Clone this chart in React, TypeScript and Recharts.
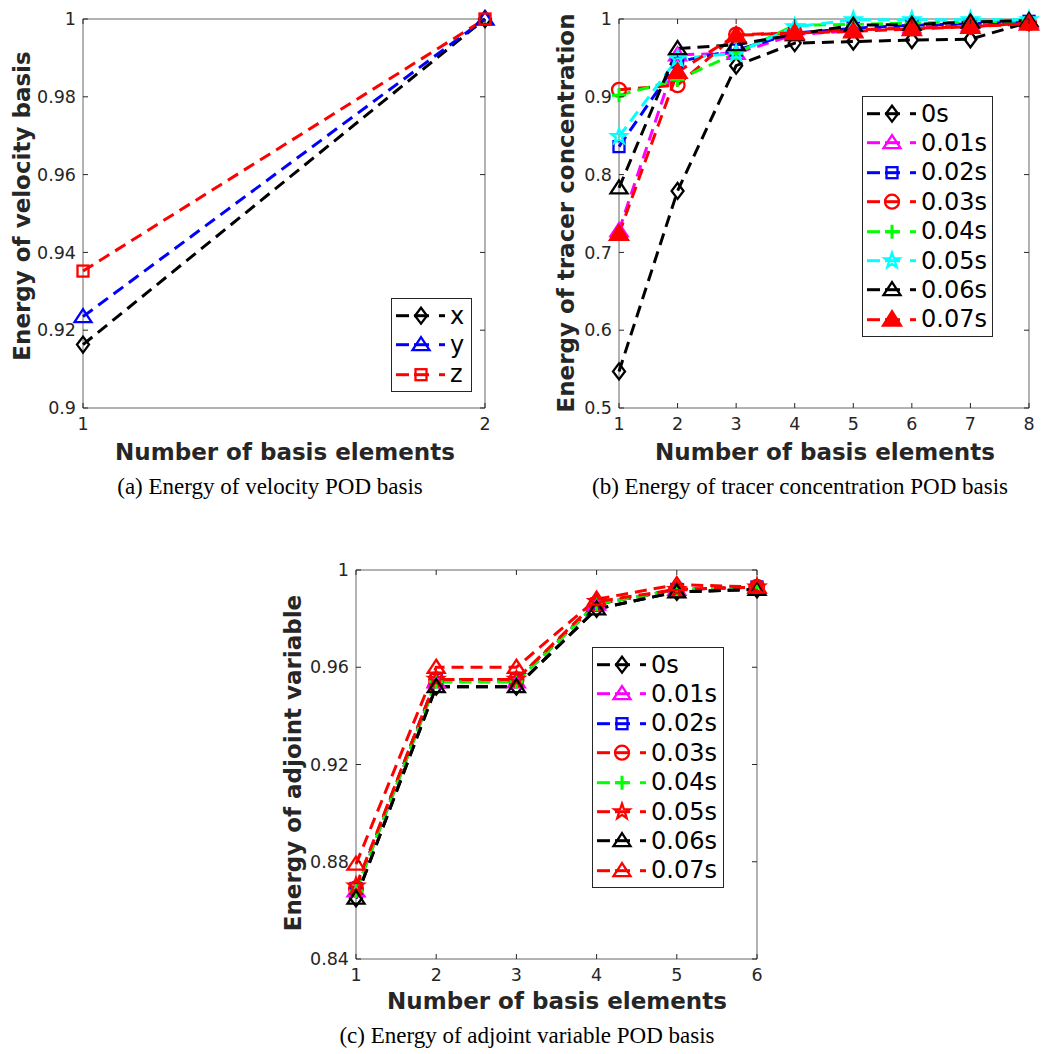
import React from "react";
import { LineChart, Line, XAxis, YAxis, ReferenceArea } from "recharts";

// (a) velocity basis
const velocityBasis = [1, 2];
const velocityX = [0.9163, 1];
const velocityY = [0.9235, 1];
const velocityZ = [0.9352, 1];
const velocityTicks = [0.9, 0.92, 0.94, 0.96, 0.98, 1];

// (b) tracer concentration basis
const tracerBasis = [1, 2, 3, 4, 5, 6, 7, 8];
const tracer0s = [0.547, 0.779, 0.94, 0.969, 0.971, 0.973, 0.974, 0.996];
const tracer001s = [0.728, 0.954, 0.956, 0.98, 0.985, 0.99, 0.992, 0.996];
const tracer002s = [0.836, 0.945, 0.96, 0.982, 0.988, 0.992, 0.994, 0.997];
const tracer003s = [0.909, 0.915, 0.98, 0.982, 0.986, 0.988, 0.99, 0.995];
const tracer004s = [0.902, 0.922, 0.956, 0.992, 0.993, 0.995, 0.996, 0.998];
const tracer005s = [0.849, 0.949, 0.956, 0.99, 0.999, 0.999, 0.999, 0.999];
const tracer006s = [0.783, 0.962, 0.967, 0.98, 0.992, 0.993, 0.996, 0.998];
const tracer007s = [0.724, 0.932, 0.979, 0.982, 0.984, 0.987, 0.99, 0.994];
const tracerTicks = [0.5, 0.6, 0.7, 0.8, 0.9, 1];

// (c) adjoint variable basis
const adjointBasis = [1, 2, 3, 4, 5, 6];
const adjoint0s = [0.865, 0.952, 0.952, 0.984, 0.991, 0.992];
const adjoint001s = [0.868, 0.954, 0.954, 0.986, 0.992, 0.993];
const adjoint002s = [0.869, 0.955, 0.955, 0.986, 0.992, 0.993];
const adjoint003s = [0.869, 0.955, 0.955, 0.986, 0.992, 0.993];
const adjoint004s = [0.868, 0.954, 0.954, 0.986, 0.992, 0.993];
const adjoint005s = [0.87, 0.955, 0.955, 0.987, 0.992, 0.993];
const adjoint006s = [0.865, 0.952, 0.952, 0.984, 0.991, 0.992];
const adjoint007s = [0.879, 0.96, 0.96, 0.988, 0.994, 0.993];
const adjointTicks = [0.84, 0.88, 0.92, 0.96, 1];

type Shape = "diamond" | "triangle" | "square" | "circle" | "plus" | "star" | "triangleFilled";

interface Series {
  name: string;
  color: string;
  shape: Shape;
  values: number[];
}

const velocitySeries: Series[] = [
  { name: "x", color: "#000000", shape: "diamond", values: velocityX },
  { name: "y", color: "#0000ff", shape: "triangle", values: velocityY },
  { name: "z", color: "#ff0000", shape: "square", values: velocityZ },
];

const tracerSeries: Series[] = [
  { name: "0s", color: "#000000", shape: "diamond", values: tracer0s },
  { name: "0.01s", color: "#ff00ff", shape: "triangle", values: tracer001s },
  { name: "0.02s", color: "#0000ff", shape: "square", values: tracer002s },
  { name: "0.03s", color: "#ff0000", shape: "circle", values: tracer003s },
  { name: "0.04s", color: "#00ff00", shape: "plus", values: tracer004s },
  { name: "0.05s", color: "#00ffff", shape: "star", values: tracer005s },
  { name: "0.06s", color: "#000000", shape: "triangle", values: tracer006s },
  { name: "0.07s", color: "#ff0000", shape: "triangleFilled", values: tracer007s },
];

const adjointSeries: Series[] = [
  { name: "0s", color: "#000000", shape: "diamond", values: adjoint0s },
  { name: "0.01s", color: "#ff00ff", shape: "triangle", values: adjoint001s },
  { name: "0.02s", color: "#0000ff", shape: "square", values: adjoint002s },
  { name: "0.03s", color: "#ff0000", shape: "circle", values: adjoint003s },
  { name: "0.04s", color: "#00ff00", shape: "plus", values: adjoint004s },
  { name: "0.05s", color: "#ff0000", shape: "star", values: adjoint005s },
  { name: "0.06s", color: "#000000", shape: "triangle", values: adjoint006s },
  { name: "0.07s", color: "#ff0000", shape: "triangle", values: adjoint007s },
];

const FONT = "'DejaVu Sans', sans-serif";
const AXIS_COLOR = "#262626";

function Marker({ shape, cx, cy, color }: { shape: Shape; cx: number; cy: number; color: string }) {
  const sw = 2.3;
  switch (shape) {
    case "diamond":
      return (
        <path
          d={`M${cx},${cy - 8} L${cx + 6},${cy} L${cx},${cy + 8} L${cx - 6},${cy} Z`}
          fill="none"
          stroke={color}
          strokeWidth={sw}
        />
      );
    case "triangle":
      return (
        <path
          d={`M${cx},${cy - 7.5} L${cx + 8.5},${cy + 5.5} L${cx - 8.5},${cy + 5.5} Z`}
          fill="none"
          stroke={color}
          strokeWidth={sw}
        />
      );
    case "triangleFilled":
      return (
        <path
          d={`M${cx},${cy - 8.5} L${cx + 9},${cy + 6} L${cx - 9},${cy + 6} Z`}
          fill={color}
          stroke={color}
          strokeWidth={sw}
        />
      );
    case "square":
      return <rect x={cx - 5.5} y={cy - 5.5} width={11} height={11} fill="none" stroke={color} strokeWidth={sw} />;
    case "circle":
      return <circle cx={cx} cy={cy} r={7} fill="none" stroke={color} strokeWidth={sw} />;
    case "plus":
      return (
        <path
          d={`M${cx - 7},${cy} L${cx + 7},${cy} M${cx},${cy - 7} L${cx},${cy + 7}`}
          stroke={color}
          strokeWidth={3}
        />
      );
    case "star": {
      const pts: string[] = [];
      for (let i = 0; i < 10; i++) {
        const r = i % 2 === 0 ? 8 : 3.2;
        const a = -Math.PI / 2 + (i * Math.PI) / 5;
        pts.push(`${cx + r * Math.cos(a)},${cy + r * Math.sin(a)}`);
      }
      return <polygon points={pts.join(" ")} fill="none" stroke={color} strokeWidth={sw} />;
    }
  }
  return null;
}

interface Layout {
  left: number;
  top: number;
  width: number;
  height: number;
  yAxisWidth: number;
  xAxisHeight: number;
  marginTop: number;
  marginRight: number;
}

const fmt = (v: number) => String(+v.toFixed(2));

function Panel({
  layout,
  basis,
  series,
  yDomain,
  yTicks,
  yTitle,
  yTitleX,
  yTitleY,
  xTitleX,
  xTitleY,
}: {
  layout: Layout;
  basis: number[];
  series: Series[];
  yDomain: [number, number];
  yTicks: number[];
  yTitle: string;
  yTitleX: number;
  yTitleY: number;
  xTitleX: number;
  xTitleY: number;
}) {
  const data = basis.map((n, i) => {
    const row: { [k: string]: number } = { n };
    series.forEach((s, j) => (row["s" + j] = s.values[i]));
    return row;
  });
  const plotLeft = layout.yAxisWidth;
  const plotRight = layout.width - layout.marginRight;
  const plotTop = layout.marginTop;
  const plotBottom = layout.height - layout.xAxisHeight;

  const yTick = (p: any) => (
    <g>
      <text x={p.x} y={p.y} dy="0.35em" textAnchor="end" fontSize={17.5} fontFamily={FONT} fill={AXIS_COLOR}>
        {fmt(p.payload.value)}
      </text>
      <line x1={plotLeft} x2={plotLeft + 5} y1={p.y} y2={p.y} stroke={AXIS_COLOR} />
      <line x1={plotRight - 5} x2={plotRight} y1={p.y} y2={p.y} stroke={AXIS_COLOR} />
    </g>
  );
  const xTick = (p: any) => (
    <g>
      <text x={p.x} y={p.y} dy="0.71em" textAnchor="middle" fontSize={17.5} fontFamily={FONT} fill={AXIS_COLOR}>
        {fmt(p.payload.value)}
      </text>
      <line x1={p.x} x2={p.x} y1={plotBottom} y2={plotBottom - 5} stroke={AXIS_COLOR} />
      <line x1={p.x} x2={p.x} y1={plotTop} y2={plotTop + 5} stroke={AXIS_COLOR} />
    </g>
  );

  return (
    <div style={{ position: "absolute", left: layout.left, top: layout.top }}>
      <LineChart
        width={layout.width}
        height={layout.height}
        data={data}
        margin={{ top: layout.marginTop, right: layout.marginRight, left: 0, bottom: 0 }}
      >
        <XAxis
          dataKey="n"
          type="number"
          domain={[basis[0], basis[basis.length - 1]]}
          ticks={basis}
          height={layout.xAxisHeight}
          axisLine={false}
          tickLine={false}
          tickSize={0}
          tickMargin={10}
          tick={xTick}
        />
        <YAxis
          type="number"
          domain={yDomain}
          ticks={yTicks}
          width={layout.yAxisWidth}
          axisLine={false}
          tickLine={false}
          tickSize={0}
          tickMargin={7}
          tick={yTick}
        />
        <ReferenceArea
          x1={basis[0]}
          x2={basis[basis.length - 1]}
          y1={yDomain[0]}
          y2={yDomain[1]}
          fill="none"
          stroke={AXIS_COLOR}
          strokeOpacity={0.7}
          strokeWidth={1}
        />
        {series.map((s, j) => (
          <Line
            key={s.name + j}
            type="linear"
            dataKey={"s" + j}
            stroke={s.color}
            strokeWidth={3}
            strokeDasharray="12 7"
            isAnimationActive={false}
            activeDot={false}
            dot={(p: any) => <Marker key={`${j}-${p.index}`} shape={s.shape} cx={p.cx} cy={p.cy} color={s.color} />}
          />
        ))}
        <text
          x={yTitleX}
          y={yTitleY}
          transform={`rotate(-90 ${yTitleX} ${yTitleY})`}
          textAnchor="middle"
          dominantBaseline="central"
          fontSize={23}
          fontWeight="bold"
          fontFamily={FONT}
          fill={AXIS_COLOR}
        >
          {yTitle}
        </text>
        <text
          x={xTitleX}
          y={xTitleY}
          textAnchor="middle"
          fontSize={23}
          fontWeight="bold"
          fontFamily={FONT}
          fill={AXIS_COLOR}
        >
          Number of basis elements
        </text>
      </LineChart>
    </div>
  );
}

function LegendBox({ series, left, top, width }: { series: Series[]; left: number; top: number; width: number }) {
  const rowH = 29.4;
  return (
    <div
      style={{
        position: "absolute",
        left,
        top,
        width,
        border: "1px solid #262626",
        background: "#fff",
        padding: "2px 0 2px 4px",
        boxSizing: "border-box",
      }}
    >
      {series.map((s, i) => (
        <div key={i} style={{ display: "flex", alignItems: "center", height: rowH }}>
          <svg width={52} height={rowH} style={{ flex: "none" }}>
            <line x1={0} x2={13} y1={rowH / 2} y2={rowH / 2} stroke={s.color} strokeWidth={3} />
            <line x1={18} x2={33} y1={rowH / 2} y2={rowH / 2} stroke={s.color} strokeWidth={3} />
            <line x1={43} x2={49} y1={rowH / 2} y2={rowH / 2} stroke={s.color} strokeWidth={3} />
            <Marker shape={s.shape} cx={25} cy={rowH / 2} color={s.color} />
          </svg>
          <span style={{ fontFamily: FONT, fontSize: 24, color: "#000", marginLeft: 2, lineHeight: 1 }}>{s.name}</span>
        </div>
      ))}
    </div>
  );
}

const captionStyle: React.CSSProperties = {
  position: "absolute",
  fontFamily: "'Liberation Serif', serif",
  fontSize: 23,
  color: "#000",
  textAlign: "center",
  whiteSpace: "nowrap",
};

export default function App() {
  return (
    <div style={{ position: "absolute", left: 0, top: 0, width: 1054, height: 1054, background: "#fff" }}>
      <Panel
        layout={{ left: 0, top: 0, width: 520, height: 475, yAxisWidth: 83, xAxisHeight: 67, marginTop: 19, marginRight: 35 }}
        basis={velocityBasis}
        series={velocitySeries}
        yDomain={[0.9, 1]}
        yTicks={velocityTicks}
        yTitle="Energy of velocity basis"
        yTitleX={22}
        yTitleY={206}
        xTitleX={285}
        xTitleY={460}
      />
      <Panel
        layout={{ left: 540, top: 0, width: 514, height: 475, yAxisWidth: 79, xAxisHeight: 67, marginTop: 19, marginRight: 25 }}
        basis={tracerBasis}
        series={tracerSeries}
        yDomain={[0.5, 1]}
        yTicks={tracerTicks}
        yTitle="Energy of tracer concentration"
        yTitleX={26}
        yTitleY={213}
        xTitleX={285}
        xTitleY={460}
      />
      <Panel
        layout={{ left: 270, top: 550, width: 520, height: 475, yAxisWidth: 86, xAxisHeight: 66, marginTop: 20, marginRight: 33 }}
        basis={adjointBasis}
        series={adjointSeries}
        yDomain={[0.84, 1]}
        yTicks={adjointTicks}
        yTitle="Energy of adjoint variable"
        yTitleX={23}
        yTitleY={213}
        xTitleX={287}
        xTitleY={459}
      />
      <LegendBox series={velocitySeries} left={391} top={298} width={81} />
      <LegendBox series={tracerSeries} left={862} top={96} width={131} />
      <LegendBox series={adjointSeries} left={592} top={647} width={132} />
      <div style={{ ...captionStyle, left: 70, width: 400, top: 474 }}>(a) Energy of velocity POD basis</div>
      <div style={{ ...captionStyle, left: 550, width: 500, top: 474 }}>(b) Energy of tracer concentration POD basis</div>
      <div style={{ ...captionStyle, left: 277, width: 500, top: 1023 }}>(c) Energy of adjoint variable POD basis</div>
    </div>
  );
}
